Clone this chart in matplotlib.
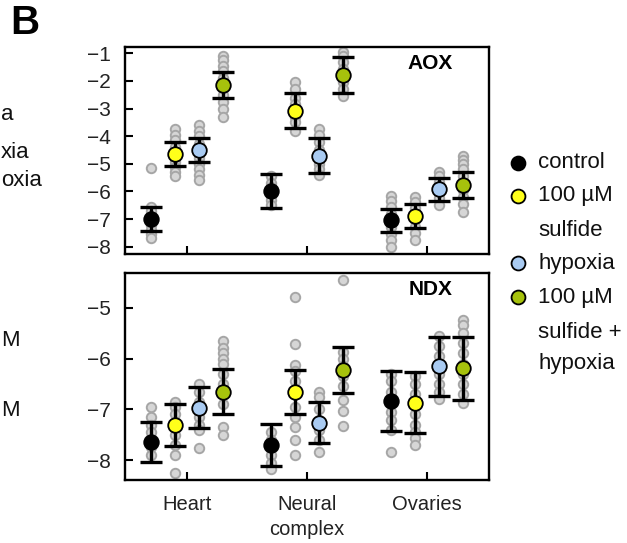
import numpy as np
import matplotlib.pyplot as plt
from matplotlib.lines import Line2D

plt.rcParams['font.family'] = ['Liberation Sans', 'DejaVu Sans']

tissues = ['Heart', 'Neural\ncomplex', 'Ovaries']
treatments = ['control', '100 \u00b5M\nsulfide', 'hypoxia', '100 \u00b5M\nsulfide +\nhypoxia']
colors = ['#000000', '#ffff1a', '#a9cbf2', '#a6c20c']
offsets = [-0.3, -0.1, 0.1, 0.3]

# means and error (per tissue, per treatment)
aox_mean = [[-7.00, -4.65, -4.50, -2.15],
            [-5.98, -3.07, -4.70, -1.78],
            [-7.05, -6.89, -5.93, -5.77]]
aox_err = [[0.43, 0.43, 0.45, 0.48],
           [0.61, 0.62, 0.62, 0.65],
           [0.41, 0.43, 0.42, 0.48]]
ndx_mean = [[-7.64, -7.31, -6.97, -6.65],
            [-7.70, -6.66, -7.26, -6.22],
            [-6.84, -6.87, -6.15, -6.19]]
ndx_err = [[0.40, 0.41, 0.40, 0.45],
           [0.41, 0.43, 0.41, 0.45],
           [0.59, 0.60, 0.58, 0.62]]

# individual values (gray dots)
aox_pts = [
    [[-5.15, -6.55, -6.7, -6.9, -7.05, -7.2, -7.4, -7.55, -7.7],
     [-3.75, -3.95, -4.15, -4.4, -4.6, -4.75, -4.95, -5.1, -5.3, -5.45],
     [-3.6, -3.8, -4.0, -4.3, -4.55, -4.8, -5.0, -5.2, -5.4, -5.6],
     [-1.1, -1.25, -1.45, -1.65, -1.9, -2.2, -2.5, -2.75, -3.0, -3.3]],
    [[-5.45, -5.7, -5.85, -6.0, -6.15, -6.3, -6.5],
     [-2.05, -2.3, -2.6, -2.85, -3.1, -3.3, -3.5, -3.8],
     [-3.75, -3.95, -4.2, -4.5, -4.75, -5.0, -5.2, -5.4],
     [-0.95, -1.1, -1.3, -1.55, -1.8, -2.05, -2.3, -2.55]],
    [[-6.15, -6.35, -6.55, -6.8, -7.05, -7.3, -7.55, -7.75, -8.0],
     [-6.2, -6.4, -6.6, -6.85, -7.05, -7.3, -7.5, -7.75],
     [-5.3, -5.45, -5.65, -5.85, -6.05, -6.25, -6.5],
     [-4.7, -4.85, -5.0, -5.2, -5.45, -5.7, -5.95, -6.2, -6.45, -6.75]],
]
ndx_pts = [
    [[-6.95, -7.15, -7.3, -7.45, -7.6, -7.75, -7.9],
     [-6.85, -6.95, -7.1, -7.3, -7.5, -7.7, -7.9, -8.25],
     [-6.5, -6.65, -6.85, -7.0, -7.15, -7.3, -7.4, -7.77],
     [-5.65, -5.8, -5.9, -6.0, -6.1, -6.3, -6.5, -6.7, -6.9, -7.35, -7.5]],
    [[-7.45, -7.6, -7.75, -7.9, -8.05, -8.17],
     [-4.79, -5.71, -6.13, -6.25, -6.45, -6.95, -7.15, -7.35, -7.6, -7.89],
     [-6.65, -6.75, -7.0, -7.2, -7.4, -7.6, -7.83],
     [-4.46, -5.87, -6.0, -6.15, -6.35, -6.55, -6.82, -7.04, -7.33]],
    [[-6.3, -6.45, -6.65, -6.85, -7.05, -7.2, -7.4, -7.83],
     [-6.35, -6.5, -6.7, -6.9, -7.1, -7.3, -7.45, -7.57, -7.7],
     [-5.55, -5.75, -5.95, -6.1, -6.3, -6.5, -6.65, -6.8],
     [-5.24, -5.35, -5.5, -5.7, -5.9, -6.1, -6.3, -6.5, -6.7, -6.88]],
]


def draw_panel(ax, means, errs, pts, title, ylim, yticks):
    for i in range(len(tissues)):
        for j in range(len(treatments)):
            x = i + offsets[j]
            vals = pts[i][j]
            ax.plot([x] * len(vals), vals, 'o', ms=6.8, mfc='#d6d6d6',
                    mec='#a6a6a6', mew=1.4, zorder=1)
            ax.errorbar(x, means[i][j], yerr=errs[i][j], fmt='none',
                        ecolor='black', elinewidth=2.4, capsize=8,
                        capthick=2.4, zorder=2)
            ax.plot(x, means[i][j], 'o', ms=10.5, mfc=colors[j], mec='black',
                    mew=1.3, zorder=3)
    ax.set_xlim(-0.52, 2.52)
    ax.set_ylim(*ylim)
    ax.set_yticks(yticks)
    ax.set_xticks(range(len(tissues)))
    ax.tick_params(direction='in', length=6, width=1.5, labelsize=15,
                   labelcolor='#222222', pad=11)
    ax.tick_params(axis='y', pad=10)
    for s in ax.spines.values():
        s.set_linewidth(1.7)
    ax.text(0.90, 0.92, title, transform=ax.transAxes, ha='right', va='center',
            fontsize=15, fontweight='bold')


fig = plt.figure(figsize=(6.27, 5.43), dpi=100)
ax1 = fig.add_axes([0.1994, 0.532, 0.5805, 0.382])
ax2 = fig.add_axes([0.1994, 0.116, 0.5805, 0.381])

draw_panel(ax1, aox_mean, aox_err, aox_pts, 'AOX', (-8.27, -0.76), range(-8, 0))
draw_panel(ax2, ndx_mean, ndx_err, ndx_pts, 'NDX', (-8.39, -4.32), range(-8, -4))
ax1.set_xticklabels([])
ax2.set_xticklabels(tissues, fontsize=14.5, linespacing=1.35)

fig.text(0.016, 0.958, 'B', fontsize=29, fontweight='bold', va='center')

# legend drawn by hand to match the uneven rows
W, H = 627, 543
leg_rows = [(163, 'control', 0), (196, '100 \u00b5M', 1), (231, 'sulfide', None),
            (263, 'hypoxia', 2), (297, '100 \u00b5M', 3), (333, 'sulfide +', None),
            (363, 'hypoxia', None)]
for y, label, ci in leg_rows:
    fy = 1 - y / H
    if ci is not None:
        fig.add_artist(Line2D([518 / W], [fy], marker='o', ms=10,
                              mfc=colors[ci], mec='black', mew=1.3,
                              transform=fig.transFigure))
    fig.text(538 / W, fy, label, fontsize=16, va='center', color='#111111')

# text fragments from the neighbouring panel at the left edge
for y, s in [(115, 'a'), (152, 'xia'), (181, 'oxia'), (341, 'M'), (411, 'M')]:
    fig.text(1 / W, 1 - y / H, s, fontsize=16, va='center', color='#111111')

plt.savefig('out.png', dpi=100)
plt.close()
